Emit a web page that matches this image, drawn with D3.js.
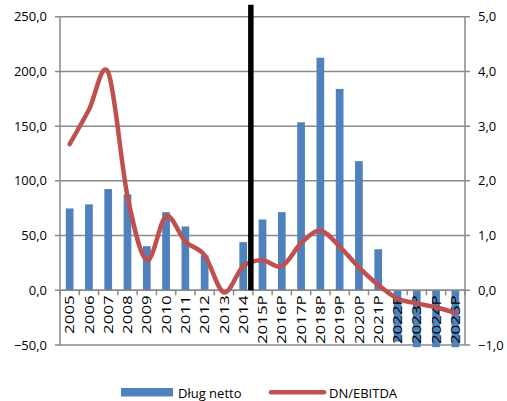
<!DOCTYPE html>
<html>
<head>
<meta charset="utf-8">
<script src="https://cdn.jsdelivr.net/npm/d3@7"></script>
<style>
  html, body { margin: 0; padding: 0; background: #fff; }
  svg { display: block; }
  text { font-family: "Open Sans", "Liberation Sans", sans-serif; fill: #000; }
</style>
</head>
<body>
<svg id="chart" width="507" height="401"></svg>
<script>
const categories = ["2005","2006","2007","2008","2009","2010","2011","2012","2013","2014",
  "2015P","2016P","2017P","2018P","2019P","2020P","2021P","2022P","2023P","2024P","2025P"];
const dlugNetto = [74.8, 78.5, 92.5, 87.6, 40.3, 71.4, 58.3, 32, -2, 44,
  64.7, 71.4, 153.5, 212.5, 184, 118, 37.5, -47, -52, -52, -52];
const dnEbitda = [2.67, 3.30, 3.98, 1.72, 0.55, 1.35, 0.89, 0.64, -0.04, 0.44,
  0.55, 0.44, 0.86, 1.09, 0.80, 0.42, 0.10, -0.15, -0.24, -0.31, -0.41];
const leftTicks = [-50, 0, 50, 100, 150, 200, 250];
const rightTicks = [-1, 0, 1, 2, 3, 4, 5];
const seriesNames = ["Dług netto", "DN/EBITDA"];
const divider = { after: "2014", from: 261, to: 0 };

const svg = d3.select("#chart");
const W = 507, H = 401;
const m = { left: 60, right: 42, top: 16.7, bottom: 56 };
const x0 = m.left, x1 = W - m.right;
const yTop = m.top, yBot = H - m.bottom;

const x = d3.scaleBand().domain(categories).range([x0, x1]).paddingInner(0.6).paddingOuter(0.3);
const xb = d3.scaleBand().domain(categories).range([x0, x1]);
const yL = d3.scaleLinear().domain([-50, 250]).range([yBot, yTop]);
const yR = d3.scaleLinear().domain([-1, 5]).range([yBot, yTop]);
const fmt = v => d3.format(".1f")(v).replace(".", ",");
const grid = "#8a8a8a";

svg.append("rect").attr("width", W).attr("height", H).attr("fill", "#fff");

// gridlines
svg.append("g").selectAll("line").data(leftTicks).join("line")
  .attr("x1", x0 - 5).attr("x2", x1 + 5)
  .attr("y1", d => yL(d)).attr("y2", d => yL(d))
  .attr("stroke", grid).attr("stroke-width", 1.5);

// axis verticals
svg.append("line").attr("x1", x0).attr("x2", x0).attr("y1", yTop).attr("y2", yBot)
  .attr("stroke", grid).attr("stroke-width", 1.5);
svg.append("line").attr("x1", x1).attr("x2", x1).attr("y1", yTop).attr("y2", yBot)
  .attr("stroke", grid).attr("stroke-width", 1.5);

// left labels
svg.append("g").selectAll("text").data(leftTicks).join("text")
  .attr("x", x0 - 13).attr("y", d => yL(d)).attr("dy", "0.35em")
  .attr("text-anchor", "end").attr("font-size", 13).text(fmt);
// right labels
svg.append("g").selectAll("text").data(rightTicks).join("text")
  .attr("x", x1 + 13).attr("y", d => yR(d)).attr("dy", "0.35em")
  .attr("text-anchor", "start").attr("font-size", 13).text(fmt);

// bars
svg.append("g").selectAll("rect").data(categories).join("rect")
  .attr("x", d => x(d))
  .attr("width", x.bandwidth())
  .attr("y", (d, i) => Math.min(yL(dlugNetto[i]), yL(0)))
  .attr("height", (d, i) => Math.abs(yL(dlugNetto[i]) - yL(0)))
  .attr("fill", "#4F81BD");

// x axis line at 0 and tick marks
svg.append("line").attr("x1", x0).attr("x2", x1).attr("y1", yL(0)).attr("y2", yL(0))
  .attr("stroke", grid).attr("stroke-width", 1.5);
svg.append("g").selectAll("line").data(categories.concat(["__end"])).join("line")
  .attr("x1", (d, i) => x0 + i * xb.bandwidth()).attr("x2", (d, i) => x0 + i * xb.bandwidth())
  .attr("y1", yL(0)).attr("y2", yL(0) + 5)
  .attr("stroke", grid).attr("stroke-width", 1.5);

// category labels (rotated, stretched along text direction)
svg.append("g").selectAll("text").data(categories).join("text")
  .attr("transform", d => `translate(${xb(d) + xb.bandwidth() / 2 + 4.6},${yL(0) + 5}) rotate(-90) scale(1.3,1)`)
  .attr("text-anchor", "end").attr("font-size", 13).text(d => d);

// line
const line = d3.line()
  .x((d, i) => xb(categories[i]) + xb.bandwidth() / 2)
  .y(d => yR(d))
  .curve(d3.curveCardinal.tension(0));
svg.append("path").datum(dnEbitda).attr("d", line)
  .attr("fill", "none").attr("stroke", "#C0504D").attr("stroke-width", 4.5)
  .attr("stroke-linecap", "round").attr("stroke-linejoin", "round");

// divider
const dx = xb(divider.after) + xb.bandwidth() - 2;
svg.append("line").attr("x1", dx).attr("x2", dx)
  .attr("y1", yL(divider.from)).attr("y2", yL(divider.to))
  .attr("stroke", "#000").attr("stroke-width", 5.5);

// legend
const lg = svg.append("g");
lg.append("rect").attr("x", 121).attr("y", 388).attr("width", 52).attr("height", 8.5).attr("fill", "#4F81BD");
lg.append("text").attr("x", 178).attr("y", 397.5).attr("font-size", 13).text(seriesNames[0]);
lg.append("line").attr("x1", 271).attr("x2", 324).attr("y1", 392.3).attr("y2", 392.3)
  .attr("stroke", "#C0504D").attr("stroke-width", 4.5).attr("stroke-linecap", "round");
lg.append("text").attr("x", 329).attr("y", 397.5).attr("font-size", 13).text(seriesNames[1]);
</script>
</body>
</html>
